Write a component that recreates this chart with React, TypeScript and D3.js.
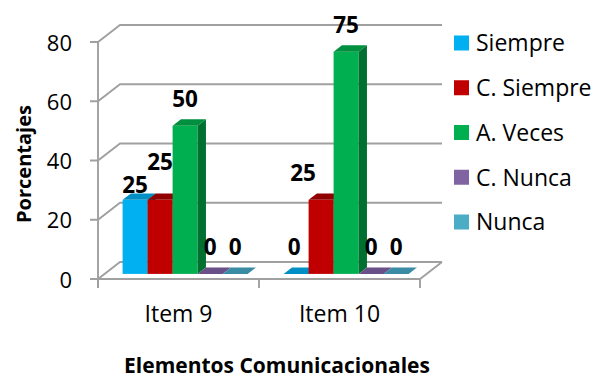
import React from "react";
import * as d3 from "d3";

// Survey results per item (percentages)
const categories = ["Item 9", "Item 10"];
const seriesNames = ["Siempre", "C. Siempre", "A. Veces", "C. Nunca", "Nunca"];
const siempre = [25, 0];
const casiSiempre = [25, 25];
const aVeces = [50, 75];
const casiNunca = [0, 0];
const nunca = [0, 0];
const yTicks = [0, 20, 40, 60, 80];
const yTitle = "Porcentajes";
const xTitle = "Elementos Comunicacionales";

const seriesValues = [siempre, casiSiempre, aVeces, casiNunca, nunca];

// front / top / side shades for each series
const palette = [
  { front: "#00B0F0", top: "#0090C6", side: "#0078A8" },
  { front: "#C00000", top: "#900000", side: "#7A0000" },
  { front: "#00B050", top: "#008F3E", side: "#007030" },
  { front: "#8064A2", top: "#6A5088", side: "#553E70" },
  { front: "#4BACC6", top: "#3A8CA5", side: "#2E7088" },
];

// label nudges [category][series] where the default spot would collide
const labelNudge: Record<string, { dx: number; dy: number }> = {
  "0-0": { dx: 0, dy: 12 },
  "0-1": { dx: 0, dy: -11 },
  "1-1": { dx: -18, dy: 0 },
  "1-0": { dx: -2, dy: 0 },
};

const W = 594;
const H = 383;
const FONT = "'Open Sans', sans-serif";
const GRID = "#A0A0A0";

const DEPTH_X = 22;
const DEPTH_Y = 17;
const BAR_FRONT = 0.3; // fraction of the depth where bars start
const BAR_BACK = 0.68;

export default function App() {
  const y = d3.scaleLinear().domain([0, 80]).range([279, 42]);
  const x0 = d3.scaleBand<string>().domain(categories).range([98, 420]);
  const x1 = d3
    .scaleBand<string>()
    .domain(seriesNames)
    .range([0, x0.bandwidth()])
    .paddingInner(0)
    .paddingOuter(0.72);
  const bw = x1.bandwidth();

  const fdx = BAR_FRONT * DEPTH_X;
  const fdy = BAR_FRONT * DEPTH_Y;
  const ddx = (BAR_BACK - BAR_FRONT) * DEPTH_X;
  const ddy = (BAR_BACK - BAR_FRONT) * DEPTH_Y;

  const frontLeft = x0.range()[0];
  const frontRight = x0.range()[1];
  const backRight = frontRight + DEPTH_X;

  const bars: React.ReactNode[] = [];
  const labels: React.ReactNode[] = [];
  categories.forEach((cat, ci) => {
    seriesNames.forEach((s, si) => {
      const v = seriesValues[si][ci];
      const c = palette[si];
      const xL = (x0(cat) ?? 0) + (x1(s) ?? 0) + fdx;
      const xR = xL + bw;
      const yB = y(0) - fdy;
      const yT = y(v) - fdy;
      const top = [
        [xL, yT],
        [xR, yT],
        [xR + ddx, yT - ddy],
        [xL + ddx, yT - ddy],
      ];
      const side = [
        [xR, yT],
        [xR + ddx, yT - ddy],
        [xR + ddx, yB - ddy],
        [xR, yB],
      ];
      bars.push(
        <g key={`b-${ci}-${si}`}>
          {v > 0 && <rect x={xL} y={yT} width={bw} height={yB - yT} fill={c.front} />}
          {v > 0 && <polygon points={side.map((p) => p.join(",")).join(" ")} fill={c.side} />}
          <polygon points={top.map((p) => p.join(",")).join(" ")} fill={c.top} />
        </g>
      );
      const n = labelNudge[`${ci}-${si}`] ?? { dx: 0, dy: 0 };
      labels.push(
        <text
          key={`l-${ci}-${si}`}
          x={xL + bw / 2 + n.dx}
          y={yT - 19 + n.dy}
          textAnchor="middle"
          fontFamily={FONT}
          fontWeight="bold"
          fontSize={22.5}
          fill="#000"
        >
          {v}
        </text>
      );
    });
  });

  const legendY = d3.scalePoint<string>().domain(seriesNames).range([43, 222]);

  return (
    <svg
      width={W}
      height={H}
      viewBox={`0 0 ${W} ${H}`}
      style={{ position: "absolute", left: 0, top: 0, background: "#fff" }}
    >
      {/* walls: gridlines across left wall and back wall */}
      <g fill="none" stroke={GRID} strokeWidth={1.9}>
        {yTicks.map((t) => (
          <path
            key={`g-${t}`}
            d={`M${frontLeft - 8},${y(t)} L${frontLeft},${y(t)} L${frontLeft + DEPTH_X},${
              y(t) - DEPTH_Y
            } L${backRight},${y(t) - DEPTH_Y}`}
          />
        ))}
        <line x1={frontLeft} x2={frontLeft} y1={y(80)} y2={y(0) + 9} />
        <path
          d={`M${frontLeft},${y(0)} L${frontRight},${y(0)} L${backRight},${y(0) - DEPTH_Y}`}
        />
        {[...categories.map((c) => x0(c) ?? 0), frontRight].map((xv, i) => (
          <line key={`xt-${i}`} x1={xv} x2={xv} y1={y(0)} y2={y(0) + 9} />
        ))}
      </g>

      {bars}
      {labels}

      {/* y axis tick labels */}
      {yTicks.map((t) => (
        <text
          key={`yt-${t}`}
          x={72}
          y={y(t) + 8.5}
          textAnchor="end"
          fontFamily={FONT}
          fontSize={22}
          fill="#000"
        >
          {t}
        </text>
      ))}

      {/* category labels */}
      {categories.map((c) => (
        <text
          key={`xc-${c}`}
          x={(x0(c) ?? 0) + x0.bandwidth() / 2}
          y={322}
          textAnchor="middle"
          fontFamily={FONT}
          fontSize={23}
          fill="#000"
        >
          {c}
        </text>
      ))}

      {/* axis titles */}
      <text
        transform="translate(31,164) rotate(-90)"
        textAnchor="middle"
        fontFamily={FONT}
        fontWeight="bold"
        fontSize={20}
        fill="#000"
      >
        {yTitle}
      </text>
      <text
        x={277}
        y={373}
        textAnchor="middle"
        fontFamily={FONT}
        fontWeight="bold"
        fontSize={21}
        fill="#000"
      >
        {xTitle}
      </text>

      {/* legend */}
      {seriesNames.map((s, i) => {
        const cy = legendY(s) ?? 0;
        return (
          <g key={`lg-${s}`}>
            <rect x={454} y={cy - 7.5} width={15} height={15} fill={palette[i].front} />
            <text x={476} y={cy + 8.3} fontFamily={FONT} fontSize={23} fill="#000">
              {s}
            </text>
          </g>
        );
      })}
    </svg>
  );
}
